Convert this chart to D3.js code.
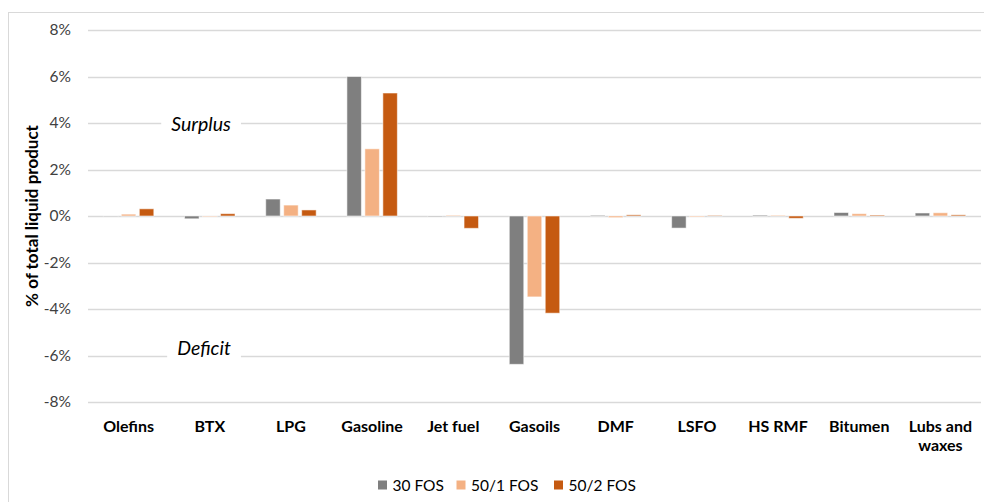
<!DOCTYPE html>
<html>
<head>
<meta charset="utf-8">
<script src="https://cdn.jsdelivr.net/npm/d3@7"></script>
<style>
  html, body { margin: 0; padding: 0; background: #fff; }
  svg { display: block; font-family: Lato, "Open Sans", "Liberation Sans", sans-serif; }
</style>
</head>
<body>
<svg id="chart" width="984" height="502"></svg>
<script>
const categories = ["Olefins", "BTX", "LPG", "Gasoline", "Jet fuel", "Gasoils", "DMF", "LSFO", "HS RMF", "Bitumen", "Lubs and waxes"];
const seriesNames = ["30 FOS", "50/1 FOS", "50/2 FOS"];
const fos30  = [-0.02, -0.12, 0.73, 6.0, -0.03, -6.38, 0.03, -0.52, 0.04, 0.15, 0.13];
const fos501 = [0.08, -0.03, 0.47, 2.89, 0.03, -3.48, -0.07, -0.04, 0.03, 0.10, 0.14];
const fos502 = [0.31, 0.10, 0.26, 5.29, -0.53, -4.18, 0.05, 0.02, -0.10, 0.04, 0.05];
const yTicks = [-8, -6, -4, -2, 0, 2, 4, 6, 8];
const colors = ["#7f7f7f", "#f4b183", "#c55a11"];
const annotations = [{ text: "Surplus", value: 4 }, { text: "Deficit", value: -6 }];

const seriesValues = [fos30, fos501, fos502];
const svg = d3.select("#chart");

// chart border
svg.append("rect").attr("x", 8.5).attr("y", 12.5).attr("width", 1000).attr("height", 520)
  .attr("fill", "#fff").attr("stroke", "#d9d9d9").attr("stroke-width", 1);

const plot = { left: 88, right: 981, top: 30, bottom: 402 };

const x0 = d3.scaleBand().domain(categories).range([plot.left, plot.right]).padding(0);
const x1 = d3.scaleBand().domain(seriesNames).range([0, x0.bandwidth()])
  .paddingInner(0.194).paddingOuter(0.855);
const y = d3.scaleLinear().domain([-8, 8]).range([plot.bottom, plot.top]);

// gridlines
svg.append("g").selectAll("line").data(yTicks).join("line")
  .attr("x1", plot.left).attr("x2", plot.right)
  .attr("y1", d => Math.round(y(d)) + 0.5).attr("y2", d => Math.round(y(d)) + 0.5)
  .attr("stroke", "#d9d9d9").attr("stroke-width", 1.3);

// y axis labels
const yAxis = d3.axisLeft(y).tickValues(yTicks).tickFormat(d => d + "%").tickSize(0).tickPadding(0);
const yg = svg.append("g").attr("transform", `translate(71,0)`).call(yAxis);
yg.select(".domain").remove();
yg.selectAll("text").attr("font-size", 15.5).attr("fill", "#404040")
  .attr("font-family", "Lato, 'Open Sans', sans-serif");

// y title
svg.append("text")
  .attr("transform", `translate(38,${(plot.top + plot.bottom) / 2}) rotate(-90)`)
  .attr("text-anchor", "middle").attr("font-size", 17).attr("font-weight", "bold")
  .attr("fill", "#000").text("% of total liquid product");

// annotations with white backgrounds
annotations.forEach(a => {
  const cx = a.text === "Surplus" ? 201 : 204;
  const cy = y(a.value) + (a.text === "Surplus" ? 3 : -5);
  const t = svg.append("text").attr("x", cx).attr("y", cy)
    .attr("text-anchor", "middle").attr("dominant-baseline", "middle")
    .attr("font-size", 19.5).attr("font-style", "italic").attr("fill", "#000").text(a.text);
  const bb = t.node().getBBox();
  svg.insert("rect", () => t.node())
    .attr("x", bb.x - 10).attr("y", bb.y).attr("width", bb.width + 20).attr("height", bb.height)
    .attr("fill", "#fff");
});

// bars
const groups = svg.append("g").selectAll("g").data(categories).join("g")
  .attr("transform", d => `translate(${x0(d)},0)`);
groups.selectAll("rect")
  .data((c, i) => seriesNames.map((s, j) => ({ s, j, v: seriesValues[j][i] })))
  .join("rect")
  .attr("x", d => x1(d.s))
  .attr("width", x1.bandwidth())
  .attr("y", d => y(Math.max(0, d.v)))
  .attr("height", d => Math.abs(y(d.v) - y(0)))
  .attr("fill", d => colors[d.j])
  .attr("stroke", "#fff").attr("stroke-opacity", 0.55).attr("stroke-width", 1);

// x labels
categories.forEach(c => {
  const t = svg.append("text").attr("x", x0(c) + x0.bandwidth() / 2).attr("y", 432)
    .attr("text-anchor", "middle").attr("font-size", 16).attr("font-weight", "bold").attr("fill", "#000");
  const words = c === "Lubs and waxes" ? ["Lubs and", "waxes"] : [c];
  words.forEach((w, k) => t.append("tspan").attr("x", x0(c) + x0.bandwidth() / 2).attr("dy", k ? 19 : 0).text(w));
});

// legend
const legendX = [378, 456.5, 554];
const lg = svg.append("g");
seriesNames.forEach((s, j) => {
  lg.append("rect").attr("x", legendX[j]).attr("y", 480.5).attr("width", 9).attr("height", 9).attr("fill", colors[j]);
  lg.append("text").attr("x", legendX[j] + 14.5).attr("y", 491).attr("font-size", 15.5).attr("fill", "#000").text(s);
});
</script>
</body>
</html>
